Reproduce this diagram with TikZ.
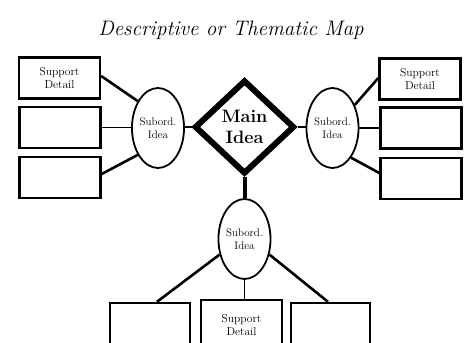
\documentclass[tikz,border=0pt]{standalone}
\usepackage{fontspec}
\usetikzlibrary{shapes.geometric}
\begin{document}
\begin{tikzpicture}[x=1pt,y=-1pt,
  box/.style={draw,line width=2.4pt,minimum width=81pt,minimum height=41pt,inner sep=0pt,align=center,font=\fontsize{11.5}{12.5}\selectfont},
  sub/.style={draw,ellipse,line width=1.8pt,minimum width=51pt,minimum height=80pt,inner sep=0pt,align=center,font=\fontsize{11}{12.5}\selectfont},
  main/.style={draw,diamond,line width=6pt,minimum width=100pt,minimum height=94pt,inner sep=0pt,align=center,font=\fontsize{18}{21}\selectfont\bfseries},
  link/.style={line width=2.6pt},
  thin link/.style={line width=1.5pt},
  title/.style={font=\fontsize{21}{24}\selectfont\itshape,anchor=base}]
\useasboundingbox (0,0) rectangle (469,343);
\clip (0,0) rectangle (469,343);
\node[title] (T) at (231,35) {Descriptive or Thematic Map};
% main idea
\node[main] (D) at (244.5,127) {Main\\Idea};
% subordinate ideas
\node[sub] (LS) at (158,128) {Subord.\\Idea};
\node[sub] (RS) at (332.5,128) {Subord.\\Idea};
\node[sub] (BS) at (244.5,239) {Subord.\\Idea};
% left boxes
\node[box] (L1) at (59.5,78) {Support\\Detail};
\node[box] (L2) at (60,127.5) {};
\node[box] (L3) at (60,177.5) {};
% right boxes
\node[box] (R1) at (420,79) {Support\\Detail};
\node[box] (R2) at (421,128) {};
\node[box] (R3) at (421,178.5) {};
% bottom boxes
\node[box,minimum width=80pt,minimum height=54pt] (B1) at (150,330) {};
\node[box,minimum width=81pt,minimum height=50pt] (B2) at (241.5,325) {Support\\Detail};
\node[box,minimum width=79pt,minimum height=54pt] (B3) at (330.5,330) {};
% connectors
\draw[link] (D.west) -- (D.west -| LS.east);
\draw[link] (D.east) -- (D.east -| RS.west);
\draw[line width=4pt] (D.south) -- (BS.north);
\draw[link] ([yshift=2pt]L1.east) -- (LS.127);
\draw[thin link] (L2.east) -- (L2.east -| LS.west);
\draw[link] ([yshift=3.5pt]L3.east) -- (LS.233);
\draw[link] (RS.46) -- ([yshift=1pt]R1.west);
\draw[thin link] (RS.east) -- (RS.east -| R2.west);
\draw[link] (RS.302) -- ([yshift=5.5pt]R3.west);
\draw[link] (BS.212) -- ([xshift=7pt]B1.north);
\draw[thin link] (BS.south) -- (BS.south |- B2.north);
\draw[link] (BS.328) -- ([xshift=-2.5pt]B3.north);
\end{tikzpicture}
\end{document}
